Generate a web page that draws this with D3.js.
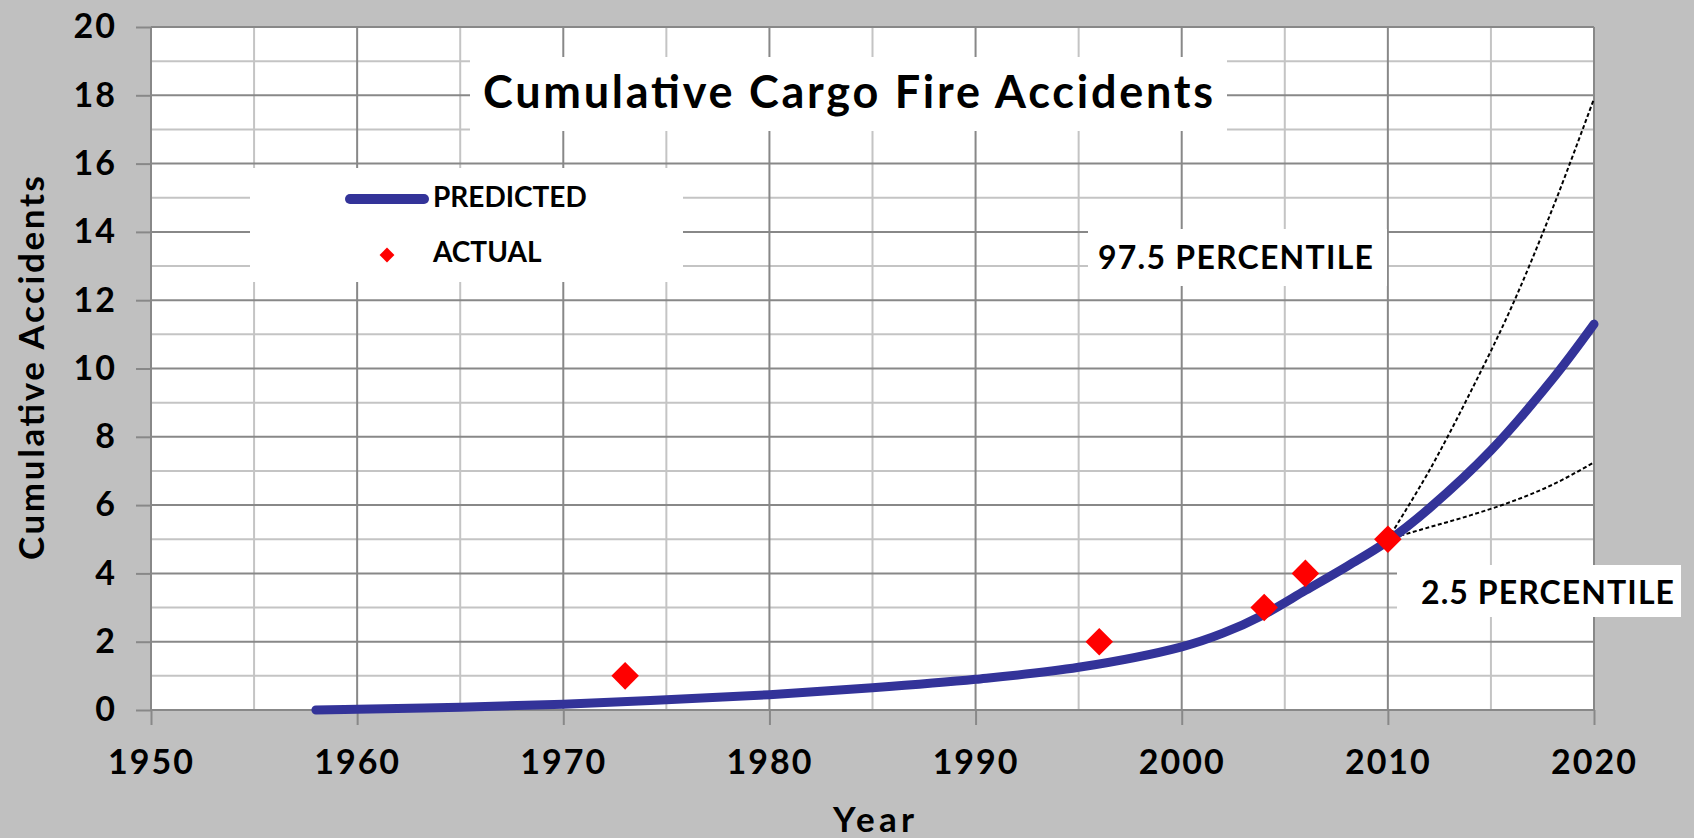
<!DOCTYPE html>
<html>
<head>
<meta charset="utf-8">
<script src="https://cdn.jsdelivr.net/npm/d3@7"></script>
<style>
  body { margin: 0; background: #c0c0c0; }
  text { font-family: Lato, "Open Sans", sans-serif; font-weight: bold; fill: #000; }
</style>
</head>
<body>
<script>
// values
var years = [1958, 1960, 1965, 1970, 1975, 1980, 1985, 1990, 1995, 2000, 2002, 2004, 2006, 2008, 2010, 2012, 2015, 2018, 2020];
var predicted = [0, 0.02, 0.08, 0.17, 0.3, 0.45, 0.65, 0.9, 1.25, 1.85, 2.25, 2.8, 3.5, 4.2, 4.95, 5.9, 7.6, 9.7, 11.3];

var actualYears = [1973, 1996, 2004, 2006, 2010];
var actualCounts = [1, 2, 3, 4, 5];

var bandYears = [2010, 2012, 2014, 2016, 2018, 2020];
var upper = [5.0, 7.0, 9.3, 11.8, 14.7, 17.9];
var lower = [5.0, 5.35, 5.7, 6.1, 6.6, 7.25];

var xTicks = [1950, 1960, 1970, 1980, 1990, 2000, 2010, 2020];
var xMinor = [1955, 1965, 1975, 1985, 1995, 2005, 2015];
var yTicks = [0, 2, 4, 6, 8, 10, 12, 14, 16, 18, 20];
var yMinor = [1, 3, 5, 7, 9, 11, 13, 15, 17, 19];

var svg = d3.select('body').append('svg')
    .attr('width', 1694)
    .attr('height', 838);

var x = d3.scaleLinear().domain([1950, 2020]).range([151, 1594]);
var y = d3.scaleLinear().domain([0, 20]).range([710, 27]);

// plot area
svg.append('rect')
    .attr('x', x(1950))
    .attr('y', y(20))
    .attr('width', x(2020) - x(1950))
    .attr('height', y(0) - y(20))
    .attr('fill', '#fff');

// minor grid
svg.selectAll('.vminor').data(xMinor).enter().append('line')
    .attr('x1', d => x(d)).attr('x2', d => x(d))
    .attr('y1', y(0)).attr('y2', y(20))
    .attr('stroke', '#c4c4c4').attr('stroke-width', 2);
svg.selectAll('.hminor').data(yMinor).enter().append('line')
    .attr('x1', x(1950)).attr('x2', x(2020))
    .attr('y1', d => y(d)).attr('y2', d => y(d))
    .attr('stroke', '#c4c4c4').attr('stroke-width', 2);

// major grid
svg.selectAll('.vmajor').data(xTicks).enter().append('line')
    .attr('x1', d => x(d)).attr('x2', d => x(d))
    .attr('y1', y(0)).attr('y2', y(20))
    .attr('stroke', '#888').attr('stroke-width', 2);
svg.selectAll('.hmajor').data(yTicks).enter().append('line')
    .attr('x1', x(1950)).attr('x2', x(2020))
    .attr('y1', d => y(d)).attr('y2', d => y(d))
    .attr('stroke', '#888').attr('stroke-width', 2);

// white label boxes that cover the grid
function box(x0, y0, x1, y1) {
    svg.append('rect')
        .attr('x', x0).attr('y', y0)
        .attr('width', x1 - x0).attr('height', y1 - y0)
        .attr('fill', '#fff');
}
box(470, 57, 1227, 131);
box(250, 168, 683, 282);
box(1088, 229, 1387, 286);
box(1397, 565, 1681, 617);

// axes
var yAxis = svg.append('g')
    .attr('transform', 'translate(' + x(1950) + ',0)')
    .call(d3.axisLeft(y).tickValues(yTicks).tickSize(15).tickPadding(19));
var xAxis = svg.append('g')
    .attr('transform', 'translate(0,' + y(0) + ')')
    .call(d3.axisBottom(x).tickValues(xTicks).tickFormat(d3.format('d')).tickSize(15).tickPadding(25));

[yAxis, xAxis].forEach(function (a) {
    a.select('.domain').remove();
    a.selectAll('.tick line').attr('stroke', '#888').attr('stroke-width', 2);
    a.selectAll('.tick text')
        .style('font-family', 'Lato, sans-serif')
        .style('font-weight', 'bold')
        .style('font-size', '34px')
        .style('letter-spacing', '2px')
        .attr('fill', '#000');
});

// series
var line = d3.line()
    .x(d => x(d[0]))
    .y(d => y(d[1]))
    .curve(d3.curveCatmullRom.alpha(0.5));

svg.append('path')
    .datum(d3.zip(bandYears, upper))
    .attr('d', line)
    .attr('fill', 'none')
    .attr('stroke', '#000')
    .attr('stroke-width', 2)
    .attr('stroke-dasharray', '4,2.5');

svg.append('path')
    .datum(d3.zip(bandYears, lower))
    .attr('d', line)
    .attr('fill', 'none')
    .attr('stroke', '#000')
    .attr('stroke-width', 2)
    .attr('stroke-dasharray', '4,2.5');

svg.append('path')
    .datum(d3.zip(years, predicted))
    .attr('d', line)
    .attr('fill', 'none')
    .attr('stroke', '#333399')
    .attr('stroke-width', 9)
    .attr('stroke-linecap', 'round');

var diamond = d3.symbol().type(d3.symbolSquare).size(380);
svg.selectAll('.actual').data(d3.zip(actualYears, actualCounts)).enter().append('path')
    .attr('d', diamond)
    .attr('transform', d => 'translate(' + x(d[0]) + ',' + y(d[1]) + ') rotate(45)')
    .attr('fill', '#ff0000');

// titles
svg.append('text')
    .attr('x', 483).attr('y', 108)
    .attr('textLength', 730)
    .attr('lengthAdjust', 'spacing')
    .style('font-size', '45px')
    .text('Cumulative Cargo Fire Accidents');

svg.append('text')
    .attr('x', 833).attr('y', 832)
    .attr('textLength', 81)
    .attr('lengthAdjust', 'spacing')
    .style('font-size', '35px')
    .text('Year');

svg.append('text')
    .attr('transform', 'translate(44,560) rotate(-90)')
    .attr('textLength', 384)
    .attr('lengthAdjust', 'spacing')
    .style('font-size', '35px')
    .text('Cumulative Accidents');

// legend
svg.append('line')
    .attr('x1', 350).attr('x2', 424)
    .attr('y1', 199).attr('y2', 199)
    .attr('stroke', '#333399')
    .attr('stroke-width', 10)
    .attr('stroke-linecap', 'round');
svg.append('text')
    .attr('x', 433).attr('y', 207)
    .style('font-size', '28px')
    .text('PREDICTED');
svg.append('path')
    .attr('d', d3.symbol().type(d3.symbolSquare).size(110))
    .attr('transform', 'translate(387,255) rotate(45)')
    .attr('fill', '#ff0000');
svg.append('text')
    .attr('x', 433).attr('y', 262)
    .style('font-size', '28px')
    .text('ACTUAL');

// percentile labels
svg.append('text')
    .attr('x', 1098).attr('y', 269)
    .attr('textLength', 275)
    .attr('lengthAdjust', 'spacing')
    .style('font-size', '32px')
    .text('97.5 PERCENTILE');
svg.append('text')
    .attr('x', 1421).attr('y', 604)
    .attr('textLength', 253)
    .attr('lengthAdjust', 'spacing')
    .style('font-size', '32px')
    .text('2.5 PERCENTILE');
</script>
</body>
</html>
